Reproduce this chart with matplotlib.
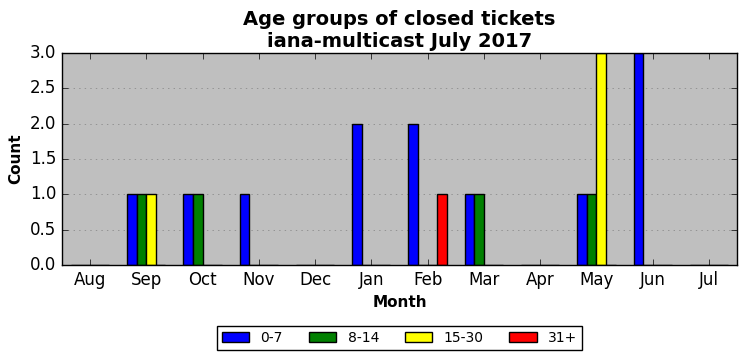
import numpy as np
import matplotlib
matplotlib.use('Agg')
import matplotlib.pyplot as plt

plt.style.use('classic')

months = ['Aug', 'Sep', 'Oct', 'Nov', 'Dec', 'Jan', 'Feb', 'Mar', 'Apr', 'May', 'Jun', 'Jul']
age_0_7 = [0, 1, 1, 1, 0, 2, 2, 1, 0, 1, 3, 0]
age_8_14 = [0, 1, 1, 0, 0, 0, 0, 1, 0, 1, 0, 0]
age_15_30 = [0, 1, 0, 0, 0, 0, 0, 0, 0, 3, 0, 0]
age_31 = [0, 0, 0, 0, 0, 0, 1, 0, 0, 0, 0, 0]

series = [('0-7', age_0_7, 'blue'), ('8-14', age_8_14, 'green'),
          ('15-30', age_15_30, 'yellow'), ('31+', age_31, 'red')]

fig = plt.figure(figsize=(7.46, 3.61), dpi=100)
ax = fig.add_axes([0.083, 0.266, 0.905, 0.587])
ax.set_facecolor('#bfbfbf')

x = np.arange(len(months))
w = 0.17
for i, (label, vals, color) in enumerate(series):
    ax.bar(x + (i - 2) * w, vals, w, align='edge', color=color,
           edgecolor='black', linewidth=1, label=label)

ax.set_xlim(-0.5, 11.5)
ax.set_ylim(0, 3)
ax.set_xticks(x)
ax.set_xticklabels(months)
ax.set_yticks(np.arange(0, 3.01, 0.5))
ax.yaxis.grid(True, linestyle=':', color='#808080')
ax.xaxis.grid(False)
ax.set_axisbelow(True)

ax.set_xlabel('Month', fontweight='bold', fontsize=11)
ax.set_ylabel('Count', fontweight='bold', fontsize=11)
ax.set_title('Age groups of closed tickets\niana-multicast July 2017',
             fontweight='bold', fontsize=14, y=0.995)

ax.legend(loc='center', bbox_to_anchor=(0.5, -0.345), ncol=4, fontsize=10,
          handlelength=2.0, columnspacing=1.85, handletextpad=0.8,
          borderpad=0.35)

fig.savefig('out.png', dpi=100)
